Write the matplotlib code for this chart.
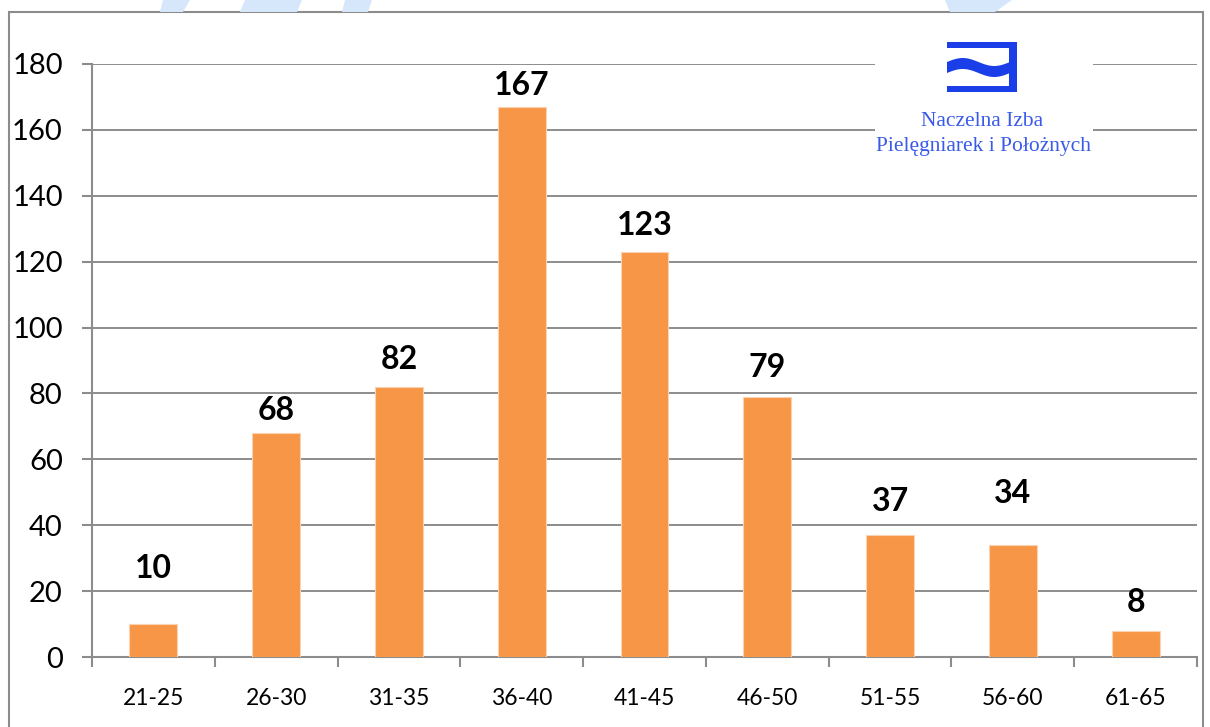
import matplotlib.pyplot as plt
from matplotlib.patches import Rectangle, Polygon
import numpy as np

categories = ['21-25', '26-30', '31-35', '36-40', '41-45', '46-50', '51-55', '56-60', '61-65']
counts = [10, 68, 82, 167, 123, 79, 37, 34, 8]
yticks = [0, 20, 40, 60, 80, 100, 120, 140, 160, 180]

# label offsets above bar tops (points), labels were placed by hand in the original
label_offsets = [40, 16, 20, 15, 19, 21, 24, 37, 20]

plt.rcParams['font.family'] = ['Lato', 'DejaVu Sans']

fig = plt.figure(figsize=(12.1, 7.27), dpi=100)
W, H = 1210, 727

def fx(px):
    return px / W

def fy(py):
    return 1 - py / H

# outer frame
fig.patches.append(Rectangle((fx(9), fy(760)), fx(1203 - 9), fy(12) - fy(760),
                             transform=fig.transFigure, fill=False,
                             edgecolor='#8c8c8c', lw=1.5))

# faint watermark shapes at top
for pts in [[(163, 0), (190, 0), (183, 12), (160, 12)],
            [(245, 0), (302, 0), (297, 12), (240, 12)],
            [(345, 0), (372, 0), (368, 12), (342, 12)],
            [(945, 0), (1012, 0), (995, 12), (950, 12)]]:
    fig.patches.append(Polygon([(fx(a), fy(b)) for a, b in pts], closed=True,
                               transform=fig.transFigure, facecolor='#d6e7fb',
                               edgecolor='none'))

ax = fig.add_axes([fx(92), fy(657), fx(1197) - fx(92), fy(64) - fy(657)])
x = np.arange(len(categories))
bars = ax.bar(x, counts, width=0.39, color='#F79646', edgecolor='#fbd3b3',
              linewidth=0.8, zorder=3)

for xi, v, off in zip(x, counts, label_offsets):
    ax.annotate(str(v), (xi, v), xytext=(0, off), textcoords='offset points',
                ha='center', va='center', fontsize=23, fontweight='bold')

ax.set_xlim(-0.5, len(categories) - 0.5)
ax.set_ylim(0, 180)
ax.set_yticks(yticks)
ax.set_yticklabels([str(t) for t in yticks], fontsize=21)
ax.set_xticks(x)
ax.set_xticklabels(categories, fontsize=16.5)
ax.set_xticks(np.arange(-0.5, len(categories)), minor=True)
ax.tick_params(axis='x', which='major', length=0, pad=22)
ax.tick_params(axis='x', which='minor', length=7, width=1.5, color='#8c8c8c', direction='out')
ax.tick_params(axis='y', length=7, width=1.5, color='#8c8c8c', pad=14)

ax.grid(axis='y', color='#8c8c8c', lw=1.4, zorder=0)
for s in ['top', 'right']:
    ax.spines[s].set_visible(False)
for s in ['left', 'bottom']:
    ax.spines[s].set_color('#8c8c8c')
    ax.spines[s].set_linewidth(1.5)

# logo box covering the grid
fig.patches.append(Rectangle((fx(875), fy(165)), fx(1093 - 875), fy(30) - fy(165),
                             transform=fig.transFigure, facecolor='white',
                             edgecolor='none', zorder=5))
blue = '#1a3fe8'
for (a, b, c, d) in [(947, 42, 1017, 48), (1009, 42, 1017, 92), (947, 86, 1017, 92)]:
    fig.patches.append(Rectangle((fx(a), fy(d)), fx(c - a), fy(b) - fy(d),
                                 transform=fig.transFigure, facecolor=blue,
                                 edgecolor='none', zorder=6))
# wave band
xs = np.linspace(947, 1010, 40)
t = (xs - 947) / 63.0
upper = 62 - 4 * np.sin(2 * np.pi * t)
lower = upper + 11
wave = list(zip(xs, upper)) + list(zip(xs[::-1], lower[::-1]))
fig.patches.append(Polygon([(fx(a), fy(b)) for a, b in wave], closed=True,
                           transform=fig.transFigure, facecolor=blue,
                           edgecolor='none', zorder=6))
fig.text(fx(982), fy(122), 'Naczelna Izba', ha='center', va='center',
         fontsize=15.5, family='Liberation Serif', color='#3a5ae8', zorder=7)
fig.text(fx(983), fy(146), 'Pielęgniarek i Położnych', ha='center', va='center',
         fontsize=15.5, family='Liberation Serif', color='#3a5ae8', zorder=7)

fig.savefig('out.png', dpi=100)
